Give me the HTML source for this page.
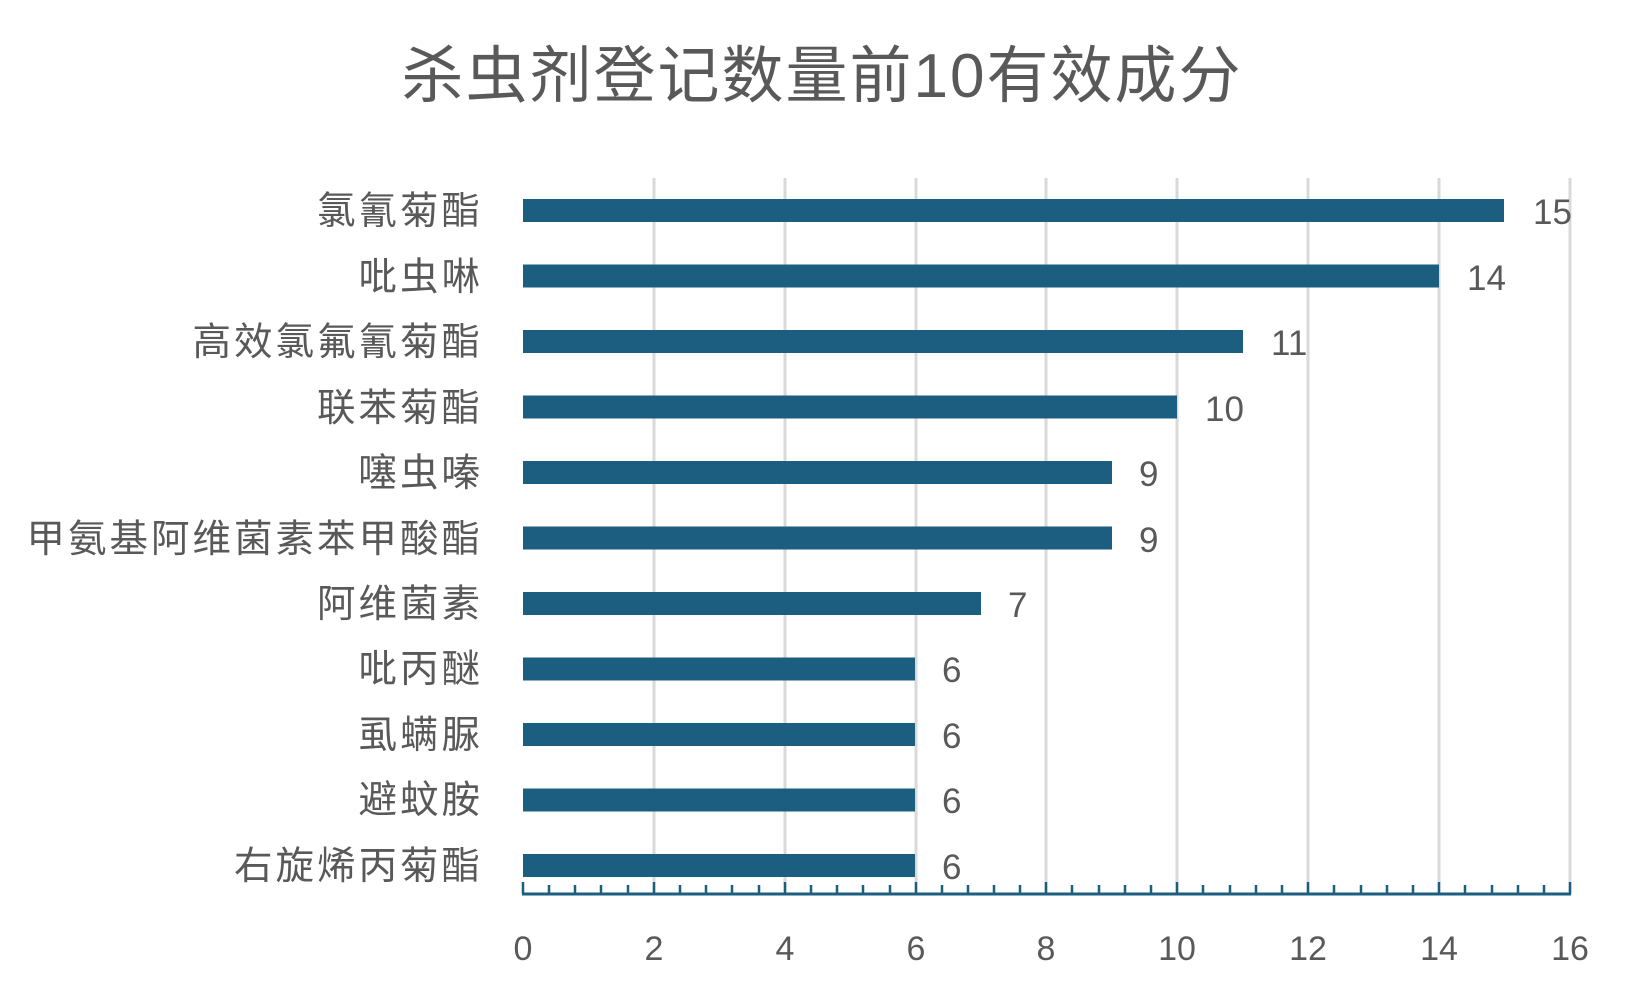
<!DOCTYPE html>
<html><head><meta charset="utf-8"><style>
html,body{margin:0;padding:0;background:#fff;}
svg{display:block;}
text{font-family:"Liberation Sans","Noto Sans CJK SC",sans-serif;fill:#595959;}
</style></head><body>
<svg width="1642" height="1002" viewBox="0 0 1642 1002" xmlns="http://www.w3.org/2000/svg">
<text x="822" y="97" font-size="62" text-anchor="middle" letter-spacing="2">杀虫剂登记数量前10有效成分</text>
<g stroke="#d9d9d9" stroke-width="3">
<line x1="654" y1="178" x2="654" y2="893"/><line x1="785" y1="178" x2="785" y2="893"/>
<line x1="916" y1="178" x2="916" y2="893"/><line x1="1046" y1="178" x2="1046" y2="893"/>
<line x1="1177" y1="178" x2="1177" y2="893"/><line x1="1308" y1="178" x2="1308" y2="893"/>
<line x1="1439" y1="178" x2="1439" y2="893"/><line x1="1570" y1="178" x2="1570" y2="893"/>
</g>
<g fill="#1b5e80">
<rect x="523" y="199" width="981" height="23"/>
<rect x="523" y="264.5" width="916" height="23"/>
<rect x="523" y="330" width="720" height="23"/>
<rect x="523" y="395.5" width="654" height="23"/>
<rect x="523" y="461" width="589" height="23"/>
<rect x="523" y="526.5" width="589" height="23"/>
<rect x="523" y="592" width="458" height="23"/>
<rect x="523" y="657.5" width="392" height="23"/>
<rect x="523" y="723" width="392" height="23"/>
<rect x="523" y="788.5" width="392" height="23"/>
<rect x="523" y="854" width="392" height="23"/>
</g>
<g stroke="#1b5e80" stroke-width="3">
<line x1="522" y1="894" x2="1571" y2="894"/>
</g>
<g stroke="#1b5e80" stroke-width="2.5">
<path d="M523 894V882 M549 894V885 M575 894V885 M601 894V885 M628 894V885 M654 894V882 M680 894V885 M706 894V885 M732 894V885 M759 894V885 M785 894V882 M811 894V885 M837 894V885 M863 894V885 M890 894V885 M916 894V882 M942 894V885 M968 894V885 M994 894V885 M1020 894V885 M1046 894V882 M1072 894V885 M1099 894V885 M1125 894V885 M1151 894V885 M1177 894V882 M1203 894V885 M1230 894V885 M1256 894V885 M1282 894V885 M1308 894V882 M1334 894V885 M1361 894V885 M1387 894V885 M1413 894V885 M1439 894V882 M1465 894V885 M1492 894V885 M1518 894V885 M1544 894V885 M1570 894V882"/>
</g>
<g font-size="34" text-anchor="middle">
<text x="523" y="960">0</text><text x="654" y="960">2</text><text x="785" y="960">4</text>
<text x="916" y="960">6</text><text x="1046" y="960">8</text><text x="1177" y="960">10</text>
<text x="1308" y="960">12</text><text x="1439" y="960">14</text><text x="1570" y="960">16</text>
</g>
<g font-size="35">
<text x="1533" y="224">15</text>
<text x="1467" y="290">14</text>
<text x="1271" y="355">11</text>
<text x="1205" y="421">10</text>
<text x="1139" y="486">9</text>
<text x="1139" y="552">9</text>
<text x="1008" y="617">7</text>
<text x="942" y="682">6</text>
<text x="942" y="748">6</text>
<text x="942" y="813">6</text>
<text x="942" y="879">6</text>
</g>
<g font-size="38.5" text-anchor="end" letter-spacing="3">
<text x="483" y="224">氯氰菊酯</text>
<text x="483" y="290">吡虫啉</text>
<text x="483" y="355">高效氯氟氰菊酯</text>
<text x="483" y="421">联苯菊酯</text>
<text x="483" y="486">噻虫嗪</text>
<text x="483" y="552">甲氨基阿维菌素苯甲酸酯</text>
<text x="483" y="617">阿维菌素</text>
<text x="483" y="682">吡丙醚</text>
<text x="483" y="748">虱螨脲</text>
<text x="483" y="813">避蚊胺</text>
<text x="483" y="879">右旋烯丙菊酯</text>
</g>
</svg>
</body></html>
